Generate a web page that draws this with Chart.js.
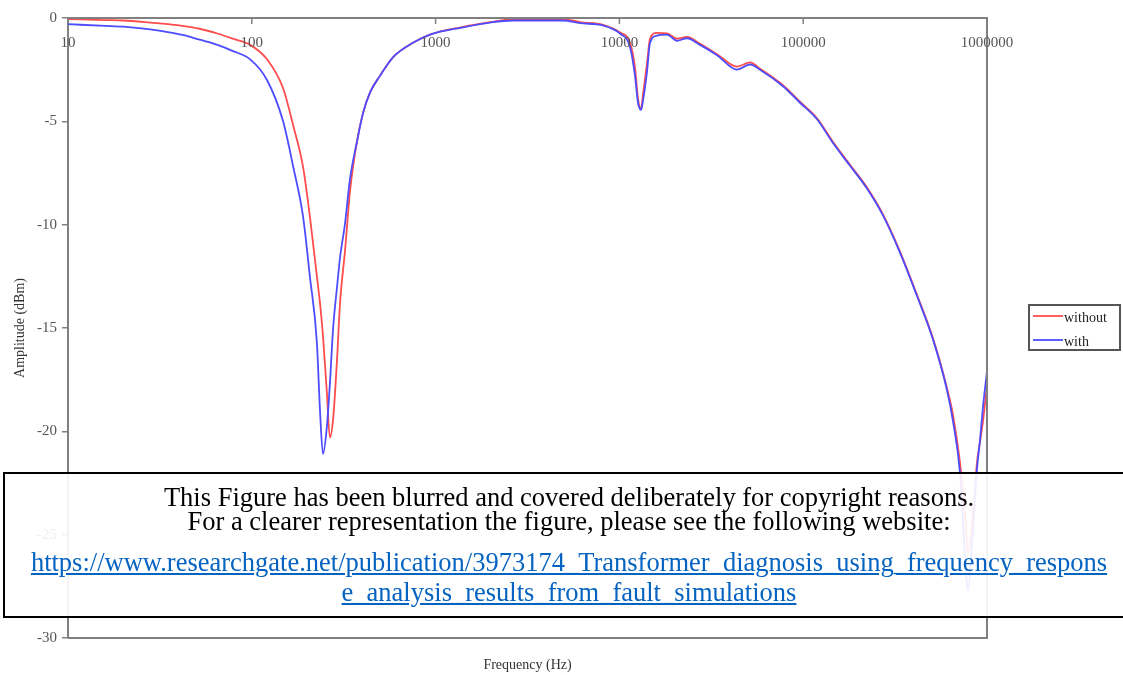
<!DOCTYPE html>
<html>
<head>
<meta charset="utf-8">
<script src="https://cdn.jsdelivr.net/npm/chart.js@4.4.0/dist/chart.umd.min.js"></script>
<style>
  body { margin: 0; background: #fff; }
  #wrap { position: relative; width: 1123px; height: 675px; overflow: hidden; }
  #chart { position: absolute; left: 0; top: 0; filter: blur(0.6px); }
  #cover {
    position: absolute; left: 3px; top: 472px; width: 1128px; height: 142px;
    border: 2px solid #000; background: rgba(255,255,255,0.9);
    font-family: "Liberation Serif", "Times New Roman", serif; font-size: 26.5px;
    text-align: center; color: #000;
  }
  #cover div { position: absolute; left: 0; width: 1128px; white-space: nowrap; }
  #cover .l1 { top: 11px; line-height: 24px; }
  #cover .l2 { top: 35px; line-height: 24px; }
  #cover .l3 { top: 73px; line-height: 30px; }
  #cover a { color: #0563c1; text-decoration: underline; }
</style>
</head>
<body>
<div id="wrap">
  <canvas id="chart" width="1123" height="675"></canvas>
  <div id="cover">
    <div class="l1">This Figure has been blurred and covered deliberately for copyright reasons.</div>
    <div class="l2">For a clearer representation the figure, please see the following website:</div>
    <div class="l3"><a href="#">https://www.researchgate.net/publication/3973174_Transformer_diagnosis_using_frequency_respons<br>e_analysis_results_from_fault_simulations</a></div>
  </div>
</div>
<script>
// Frequency points (Hz) shared by both traces
const freqs = [10, 16, 20, 28, 35, 42, 52, 65, 79, 98, 121, 148, 168, 190, 207, 226, 235, 244, 256, 266, 277, 291, 302, 322,
  342, 373, 403, 440, 498, 586, 753, 933, 1410, 1980, 2640, 4930, 6110, 8150, 10070, 11420, 12160, 12620,
  13120, 13440, 14130, 14680, 16030, 18160, 20570, 23330, 27460, 33980, 43650, 51400, 58210, 77650, 96100,
  118900, 145300, 179700, 222300, 271700, 336200, 416100, 508200, 605500, 652900, 712600, 758700, 788000,
  828700, 882500, 916600, 951300, 1000000];

// Amplitude (dBm) without the fault
const withoutVals = [-0.05, -0.1, -0.12, -0.22, -0.3, -0.38, -0.52, -0.75, -1.0, -1.3, -2.0, -3.4, -5.2, -7.2, -9.6, -12.5, -13.8, -15.4, -18.1, -20.3, -19.4, -16.5, -13.8, -11.2,
  -8.4, -6.0, -4.6, -3.6, -2.8, -1.9, -1.2, -0.8, -0.43, -0.2, -0.05, -0.05, -0.2, -0.33, -0.7, -1.2, -2.4, -3.9,
  -4.4, -3.7, -2.2, -1.0, -0.72, -0.75, -1.0, -0.92, -1.25, -1.75, -2.35, -2.15, -2.45, -3.25, -4.05,
  -4.85, -6.0, -7.1, -8.2, -9.5, -11.3, -13.4, -15.5, -17.9, -19.2, -21.5, -24.0, -25.9,
  -24.5, -21.5, -20.5, -19.5, -17.8];

// Amplitude (dBm) with the fault
const withVals = [-0.3, -0.38, -0.42, -0.55, -0.68, -0.82, -1.05, -1.3, -1.6, -2.0, -3.0, -5.0, -7.2, -9.6, -12.5, -15.7, -19.0, -21.1, -19.8, -17.7, -15.0, -13.0, -11.6, -9.9,
  -7.8, -6.0, -4.6, -3.6, -2.8, -1.9, -1.2, -0.8, -0.45, -0.22, -0.12, -0.12, -0.25, -0.36, -0.75, -1.4, -2.8, -4.1,
  -4.45, -4.0, -2.6, -1.2, -0.85, -0.8, -1.1, -0.98, -1.3, -1.8, -2.5, -2.25, -2.5, -3.3, -4.1,
  -4.9, -6.05, -7.15, -8.25, -9.55, -11.35, -13.45, -15.55, -18.0, -19.5, -22.0, -26.0, -27.7,
  -25.5, -21.8, -20.4, -18.8, -17.1];

const xTicks = [10, 100, 1000, 10000, 100000, 1000000];
const seriesNames = ['without', 'with'];
const seriesColors = ['#ff4d4d', '#4d4dff'];

const serif = '"Liberation Serif", "Times New Roman", serif';

function toPoints(vals) {
  return freqs.map((f, i) => ({ x: f, y: vals[i] }));
}

// frame, top x-axis labels, axis titles and legend
const decorPlugin = {
  id: 'decor',
  afterDraw(chart) {
    const ctx = chart.ctx;
    const a = chart.chartArea;
    const xs = chart.scales.x;
    ctx.save();
    ctx.strokeStyle = '#808080';
    ctx.lineWidth = 2;
    ctx.beginPath();
    ctx.moveTo(a.left, a.top);
    ctx.lineTo(a.right, a.top);
    ctx.lineTo(a.right, a.bottom);
    ctx.lineTo(a.left, a.bottom);
    ctx.stroke();

    ctx.lineWidth = 1.5;
    ctx.fillStyle = '#555';
    ctx.font = '15px ' + serif;
    ctx.textAlign = 'center';
    ctx.textBaseline = 'middle';
    xTicks.forEach(t => {
      const px = xs.getPixelForValue(t);
      ctx.beginPath();
      ctx.moveTo(px, a.top);
      ctx.lineTo(px, a.top + 6);
      ctx.stroke();
      ctx.fillText(String(t), px, a.top + 25);
    });

    // axis titles
    ctx.fillStyle = '#333';
    ctx.font = '14px ' + serif;
    ctx.fillText('Frequency (Hz)', (a.left + a.right) / 2, 665);
    ctx.save();
    ctx.translate(20, (a.top + a.bottom) / 2);
    ctx.rotate(-Math.PI / 2);
    ctx.fillText('Amplitude (dBm)', 0, 0);
    ctx.restore();

    // legend
    ctx.strokeStyle = '#555';
    ctx.lineWidth = 2;
    ctx.strokeRect(1029, 305, 91, 45);
    ctx.font = '14px ' + serif;
    ctx.textAlign = 'left';
    seriesNames.forEach((name, i) => {
      const y = 316 + i * 24;
      ctx.strokeStyle = seriesColors[i];
      ctx.lineWidth = 1.8;
      ctx.beginPath();
      ctx.moveTo(1033, y);
      ctx.lineTo(1063, y);
      ctx.stroke();
      ctx.fillStyle = '#222';
      ctx.fillText(name, 1064, y + 2);
    });
    ctx.restore();
  }
};

new Chart(document.getElementById('chart').getContext('2d'), {
  type: 'line',
  data: {
    datasets: [
      { label: seriesNames[0], data: toPoints(withoutVals), borderColor: seriesColors[0], order: 1 },
      { label: seriesNames[1], data: toPoints(withVals), borderColor: seriesColors[1], order: 0 }
    ]
  },
  options: {
    responsive: false,
    animation: false,
    layout: { padding: { left: 0, top: 18, right: 136, bottom: 37 } },
    elements: {
      line: { borderWidth: 1.8, cubicInterpolationMode: 'monotone', fill: false },
      point: { radius: 0 }
    },
    plugins: {
      legend: { display: false },
      tooltip: { enabled: false }
    },
    scales: {
      x: {
        type: 'logarithmic',
        min: 10,
        max: 1000000,
        display: false
      },
      y: {
        min: -30,
        max: 0,
        ticks: {
          stepSize: 5,
          color: '#555',
          padding: 5,
          font: { family: serif, size: 15 }
        },
        grid: { drawOnChartArea: false, drawTicks: true, tickLength: 6, color: '#808080', lineWidth: 1.5 },
        border: { display: true, color: '#808080', width: 2 },
        afterFit(scale) { scale.width = 68; }
      }
    }
  },
  plugins: [decorPlugin]
});
</script>
</body>
</html>
